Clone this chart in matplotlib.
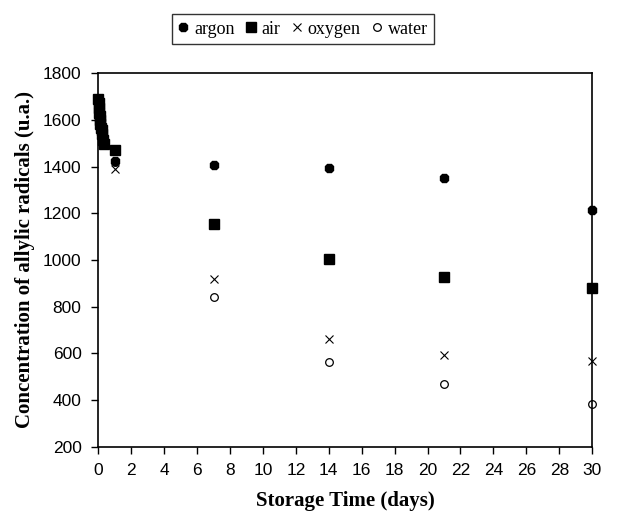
import numpy as np
import matplotlib.pyplot as plt

# storage time (days)
t_early = [0.0, 0.02, 0.04, 0.06, 0.08, 0.10, 0.13, 0.16, 0.20, 0.24, 0.28, 0.33]
t_late = [1, 7, 14, 21, 30]

argon_early = [1690, 1675, 1660, 1645, 1625, 1610, 1590, 1575, 1560, 1545, 1520, 1500]
air_early = [1690, 1670, 1650, 1630, 1615, 1600, 1580, 1565, 1555, 1540, 1515, 1495]
oxygen_early = [1680, 1660, 1645, 1625, 1610, 1590, 1575, 1560, 1545, 1530, 1510, 1490]
water_early = [1685, 1665, 1650, 1635, 1620, 1600, 1585, 1570, 1550, 1535, 1515, 1495]

argon_late = [1425, 1407, 1395, 1350, 1215]
air_late = [1472, 1155, 1005, 928, 882]
oxygen_late = [1388, 920, 662, 592, 566]
water_late = [1420, 843, 562, 467, 384]

serif = 'Liberation Serif'
sans = 'Liberation Sans'

fig = plt.figure(figsize=(6.26, 5.22), dpi=100)
ax = fig.add_axes([0.157, 0.144, 0.789, 0.716])

series = [
    ('argon', argon_early + argon_late, dict(marker='8', color='black', markersize=7, linestyle='none'), 4),
    ('air', air_early + air_late, dict(marker='s', color='black', markersize=6.5, linestyle='none'), 3),
    ('oxygen', oxygen_early + oxygen_late, dict(marker='x', color='black', markersize=6, markeredgewidth=0.8, linestyle='none'), 2),
    ('water', water_early + water_late, dict(marker='o', markerfacecolor='white', markeredgecolor='black', markersize=5.5, markeredgewidth=0.9, linestyle='none'), 1),
]

t_all = t_early + t_late
handles = []
for name, vals, style, z in series:
    h, = ax.plot(t_all, vals, label=name, clip_on=False, zorder=z, **style)
    handles.append(h)

ax.set_xlim(0, 30)
ax.set_ylim(200, 1800)
ax.set_xticks(np.arange(0, 31, 2))
ax.set_yticks(np.arange(200, 1801, 200))
ax.tick_params(direction='out', length=5, width=1, labelsize=12.5, pad=7)
for lab in ax.get_xticklabels() + ax.get_yticklabels():
    lab.set_family(sans)
for s in ax.spines.values():
    s.set_linewidth(1.2)

ax.set_xlabel('Storage Time (days)', family=serif, fontweight='bold', fontsize=15, labelpad=9)
ax.set_ylabel('Concentration of allylic radicals (u.a.)', family=serif, fontweight='bold', fontsize=15, labelpad=6)

fig.legend(handles=handles, loc='center', bbox_to_anchor=(303 / 626, 1 - 29 / 522),
           ncol=4, frameon=True, fancybox=False, edgecolor='black',
           prop={'family': serif, 'size': 13}, handlelength=0.6, handletextpad=0.3,
           columnspacing=0.6, borderpad=0.35, markerscale=1.0)

fig.savefig('out.png', dpi=100, facecolor='white')
